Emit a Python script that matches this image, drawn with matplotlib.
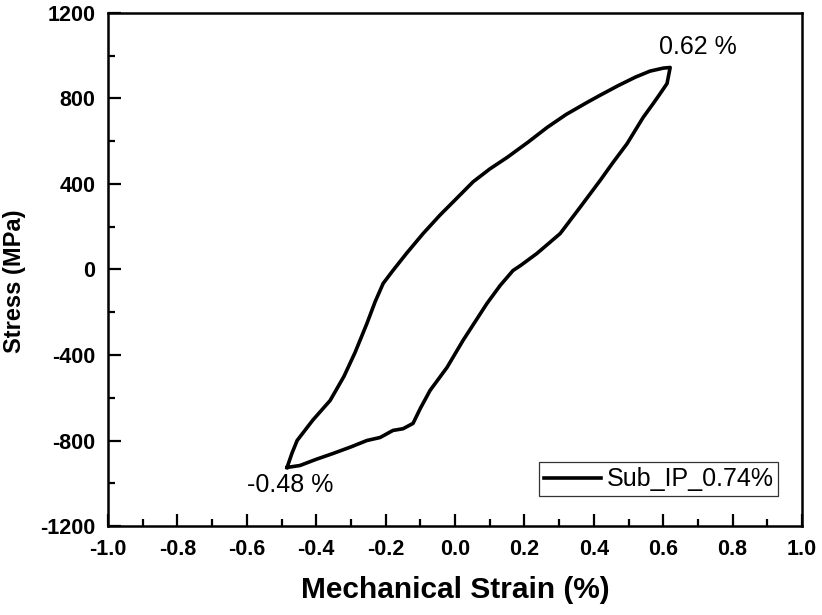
import numpy as np
import matplotlib
matplotlib.use("Agg")
import matplotlib.pyplot as plt
from matplotlib.ticker import MultipleLocator

plt.rcParams["font.family"] = ["Liberation Sans", "DejaVu Sans"]
plt.rcParams["axes.unicode_minus"] = False

# hysteresis loop (strain %, stress MPa)
upper_strain = [-0.484, -0.470, -0.455, -0.410, -0.360, -0.320, -0.288, -0.254,
                -0.230, -0.207, -0.179, -0.140, -0.092, -0.043, 0.000, 0.052,
                0.100, 0.150, 0.210, 0.265, 0.320, 0.380, 0.418, 0.470,
                0.520, 0.562, 0.600, 0.620]
upper_stress = [-926, -860, -800, -705, -613, -500, -388, -253,
                -150, -65, -5, 75, 168, 255, 325, 410,
                470, 524, 595, 664, 725, 781, 815, 860,
                900, 928, 942, 945]
lower_strain = [0.620, 0.611, 0.590, 0.571, 0.542, 0.496, 0.455, 0.418,
                0.360, 0.303, 0.236, 0.190, 0.167, 0.130, 0.092, 0.023,
                -0.023, -0.072, -0.100, -0.121, -0.150, -0.179, -0.216,
                -0.254, -0.300, -0.352, -0.400, -0.447, -0.484]
lower_stress = [945, 870, 820, 776, 711, 589, 500, 416,
                290, 168, 75, 20, -5, -75, -159, -332,
                -458, -566, -650, -720, -745, -753, -786,
                -800, -830, -861, -888, -917, -926]

strain = upper_strain + lower_strain
stress = upper_stress + lower_stress

fig = plt.figure(figsize=(8.22, 6.15), dpi=100)
ax = fig.add_axes([0.1314, 0.1447, 0.8443, 0.8342])

ax.plot(strain, stress, color="black", lw=2.6, label="Sub_IP_0.74%",
        solid_joinstyle="round")

ax.set_xlim(-1.0, 1.0)
ax.set_ylim(-1200, 1200)
ax.xaxis.set_major_locator(MultipleLocator(0.2))
ax.xaxis.set_minor_locator(MultipleLocator(0.1))
ax.yaxis.set_major_locator(MultipleLocator(400))
ax.yaxis.set_minor_locator(MultipleLocator(200))
ax.xaxis.set_major_formatter(plt.FormatStrFormatter("%.1f"))
ax.tick_params(which="both", direction="in", top=False, right=False, width=1.6)
ax.tick_params(which="major", length=9, labelsize=15.5, pad=9)
ax.tick_params(which="minor", length=5)
for lab in ax.get_xticklabels() + ax.get_yticklabels():
    lab.set_fontweight("bold")
for sp in ax.spines.values():
    sp.set_linewidth(1.8)

ax.set_xlabel("Mechanical Strain (%)", fontsize=21.5, fontweight="bold", labelpad=12)
ax.set_ylabel("Stress (MPa)", fontsize=17, fontweight="bold")
ax.yaxis.set_label_coords(-0.118, 0.478)

ax.text(0.70, 985, "0.62 %", fontsize=18, ha="center", va="bottom")
ax.text(-0.475, -950, "-0.48 %", fontsize=18, ha="center", va="top")

leg = ax.legend(loc="lower right", bbox_to_anchor=(0.966, 0.058), fontsize=18,
                frameon=True, fancybox=False, edgecolor="black", handlelength=2.3,
                borderpad=0.2, handletextpad=0.2, borderaxespad=0.0)
leg.get_frame().set_linewidth(0.9)

fig.savefig("out.png", dpi=100)
